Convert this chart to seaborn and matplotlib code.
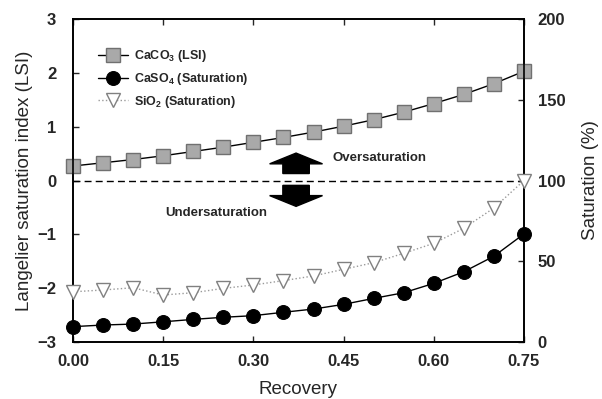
import matplotlib
matplotlib.use("Agg")
import matplotlib.pyplot as plt
import seaborn as sns

# data
recovery = [0.00, 0.05, 0.10, 0.15, 0.20, 0.25, 0.30, 0.35,
            0.40, 0.45, 0.50, 0.55, 0.60, 0.65, 0.70, 0.75]
caco3_lsi = [0.27, 0.33, 0.39, 0.46, 0.54, 0.62, 0.71, 0.80,
             0.90, 1.01, 1.13, 1.27, 1.43, 1.60, 1.80, 2.03]
caso4_sat = [9.5, 10.5, 11.1, 12.5, 14.0, 15.3, 16.3, 18.4,
             20.4, 23.3, 27.0, 30.5, 36.3, 43.5, 53.1, 66.9]
sio2_sat = [31.1, 32.2, 33.6, 29.1, 30.5, 33.2, 35.3, 38.0,
            40.9, 45.0, 49.1, 54.9, 61.1, 70.4, 83.0, 100.0]

x_ticks = [0.00, 0.15, 0.30, 0.45, 0.60, 0.75]
lsi_ticks = [-3, -2, -1, 0, 1, 2, 3]
sat_ticks = [0, 50, 100, 150, 200]

sns.set_style("ticks")
plt.rcParams['font.family'] = ['Liberation Sans', 'DejaVu Sans']
plt.rcParams['mathtext.fontset'] = 'custom'
plt.rcParams['mathtext.rm'] = 'Liberation Sans:bold'
plt.rcParams['mathtext.bf'] = 'Liberation Sans:bold'
plt.rcParams['mathtext.default'] = 'bf'

fig = plt.figure(figsize=(6.02, 3.99), dpi=100)
ax = fig.add_axes([0.1213, 0.1429, 0.749, 0.8093])
ax2 = ax.twinx()

sns.lineplot(x=recovery, y=caco3_lsi, ax=ax, color='black', lw=1,
             marker='s', ms=10, markerfacecolor='#a9a9a9',
             markeredgecolor='#707070', markeredgewidth=1,
             label=r'CaCO$_3$ (LSI)', legend=False, clip_on=False, zorder=5)
sns.lineplot(x=recovery, y=caso4_sat, ax=ax2, color='black', lw=1,
             marker='o', ms=10, markerfacecolor='black',
             markeredgecolor='black', label=r'CaSO$_4$ (Saturation)',
             legend=False, clip_on=False, zorder=5)
sns.lineplot(x=recovery, y=sio2_sat, ax=ax2, color='#9a9a9a', lw=1,
             linestyle=':', marker='v', ms=10, markerfacecolor='white',
             markeredgecolor='#808080', markeredgewidth=1,
             label=r'SiO$_2$ (Saturation)', legend=False, clip_on=False,
             zorder=5)

ax.axhline(0, color='black', ls='--', lw=1, dashes=(5, 3))

# arrows
ax.arrow(0.371, 0.13, 0, 0.38, width=0.044, head_width=0.088,
         head_length=0.2, length_includes_head=True, color='black')
ax.arrow(0.371, -0.09, 0, -0.39, width=0.044, head_width=0.088,
         head_length=0.2, length_includes_head=True, color='black')
ax.text(0.432, 0.41, 'Oversaturation', fontsize=9.5, fontweight='bold',
        va='center', ha='left')
ax.text(0.153, -0.61, 'Undersaturation', fontsize=9.5, fontweight='bold',
        va='center', ha='left')

ax.set_xlim(0, 0.75)
ax.set_ylim(-3, 3)
ax2.set_ylim(0, 200)
ax.set_xticks(x_ticks)
ax.set_xticklabels([f'{v:.2f}' for v in x_ticks])
ax.set_yticks(lsi_ticks)
ax2.set_yticks(sat_ticks)

ax.tick_params(axis='x', direction='in', length=4, width=1,
               labelsize=12, top=True, pad=9)
ax.tick_params(axis='y', direction='in', length=4, width=1,
               labelsize=12, pad=12)
ax2.tick_params(axis='y', direction='in', length=4, width=1,
                labelsize=12, pad=10)
for lab in ax.get_xticklabels() + ax.get_yticklabels() + ax2.get_yticklabels():
    lab.set_fontweight('bold')

for a in (ax, ax2):
    for sp in a.spines.values():
        sp.set_visible(True)
        sp.set_linewidth(1.2)
        sp.set_color('black')

ax.set_xlabel('Recovery', fontsize=13.5, labelpad=8)
ax.set_ylabel('Langelier saturation index (LSI)', fontsize=13.5, labelpad=3)
ax2.set_ylabel('Saturation (%)', fontsize=13.5, labelpad=12)

h1, l1 = ax.get_legend_handles_labels()
h2, l2 = ax2.get_legend_handles_labels()
leg = ax2.legend(h1 + h2, l1 + l2, loc='upper left',
                 bbox_to_anchor=(0.03, 0.945), frameon=False, fontsize=9,
                 handlelength=2.4, labelspacing=0.55, handletextpad=0.5)
for t in leg.get_texts():
    t.set_fontweight('bold')

fig.savefig('out.png', dpi=100)
